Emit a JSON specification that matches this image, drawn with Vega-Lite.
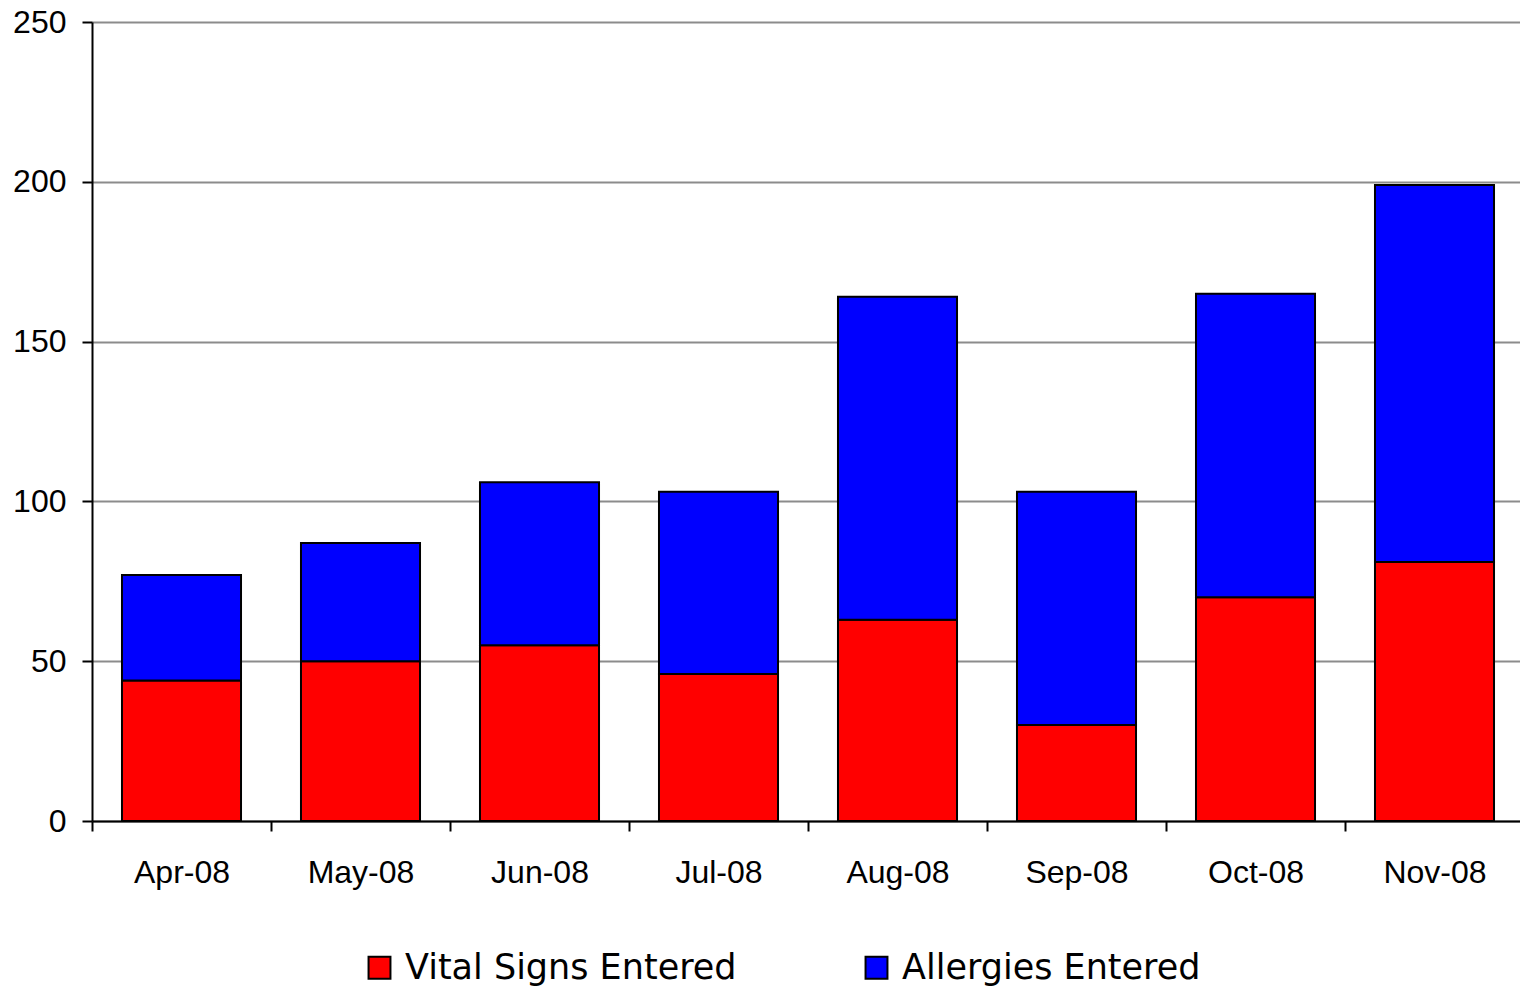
{
  "$schema": "https://vega.github.io/schema/vega-lite/v6.json",
  "width": 1432,
  "height": 799,
  "autosize": "none",
  "padding": {"left": 92, "top": 22, "right": 0, "bottom": 165},
  "background": "white",
  "config": {"view": {"stroke": null}, "font": "Liberation Sans"},
  "data": {
    "values": [
      {"month": "Apr-08", "series": "Vital Signs Entered", "k": 1, "value": 44},
      {"month": "Apr-08", "series": "Allergies Entered", "k": 2, "value": 33},
      {"month": "May-08", "series": "Vital Signs Entered", "k": 1, "value": 50},
      {"month": "May-08", "series": "Allergies Entered", "k": 2, "value": 37},
      {"month": "Jun-08", "series": "Vital Signs Entered", "k": 1, "value": 55},
      {"month": "Jun-08", "series": "Allergies Entered", "k": 2, "value": 51},
      {"month": "Jul-08", "series": "Vital Signs Entered", "k": 1, "value": 46},
      {"month": "Jul-08", "series": "Allergies Entered", "k": 2, "value": 57},
      {"month": "Aug-08", "series": "Vital Signs Entered", "k": 1, "value": 63},
      {"month": "Aug-08", "series": "Allergies Entered", "k": 2, "value": 101},
      {"month": "Sep-08", "series": "Vital Signs Entered", "k": 1, "value": 30},
      {"month": "Sep-08", "series": "Allergies Entered", "k": 2, "value": 73},
      {"month": "Oct-08", "series": "Vital Signs Entered", "k": 1, "value": 70},
      {"month": "Oct-08", "series": "Allergies Entered", "k": 2, "value": 95},
      {"month": "Nov-08", "series": "Vital Signs Entered", "k": 1, "value": 81},
      {"month": "Nov-08", "series": "Allergies Entered", "k": 2, "value": 118}
    ]
  },
  "mark": {"type": "bar", "width": {"band": 0.665}, "stroke": "black", "strokeWidth": 2},
  "encoding": {
    "x": {
      "field": "month",
      "type": "nominal",
      "sort": null,
      "scale": {"paddingInner": 0, "paddingOuter": 0},
      "axis": {
        "title": null,
        "labelAngle": 0,
        "labelFontSize": 32,
        "labelColor": "black",
        "labelPadding": 26,
        "domainColor": "black",
        "domainWidth": 2,
        "tickColor": "black",
        "tickWidth": 2,
        "tickSize": 10,
        "tickBand": "extent",
        "grid": false
      }
    },
    "y": {
      "field": "value",
      "type": "quantitative",
      "stack": "zero",
      "scale": {"domain": [0, 250], "nice": false},
      "axis": {
        "title": null,
        "values": [0, 50, 100, 150, 200, 250],
        "labelFontSize": 32,
        "labelColor": "black",
        "labelPadding": 16,
        "domainColor": "black",
        "domainWidth": 2,
        "tickColor": "black",
        "tickWidth": 2,
        "tickSize": 10,
        "grid": true,
        "gridColor": "#8c8c8c",
        "gridWidth": 2
      }
    },
    "color": {
      "field": "series",
      "type": "nominal",
      "scale": {"domain": ["Vital Signs Entered", "Allergies Entered"], "range": ["#ff0000", "#0000ff"]},
      "legend": {
        "title": null,
        "orient": "none",
        "legendX": 270,
        "legendY": 928,
        "padding": 0,
        "direction": "horizontal",
        "symbolType": "square",
        "symbolSize": 480,
        "symbolStrokeColor": "black",
        "symbolStrokeWidth": 2,
        "labelFont": "DejaVu Sans",
        "labelFontSize": 35,
        "labelColor": "black",
        "labelLimit": 500,
        "labelOffset": 8,
        "columnPadding": 122
      }
    },
    "order": {"field": "k", "type": "quantitative"}
  }
}
